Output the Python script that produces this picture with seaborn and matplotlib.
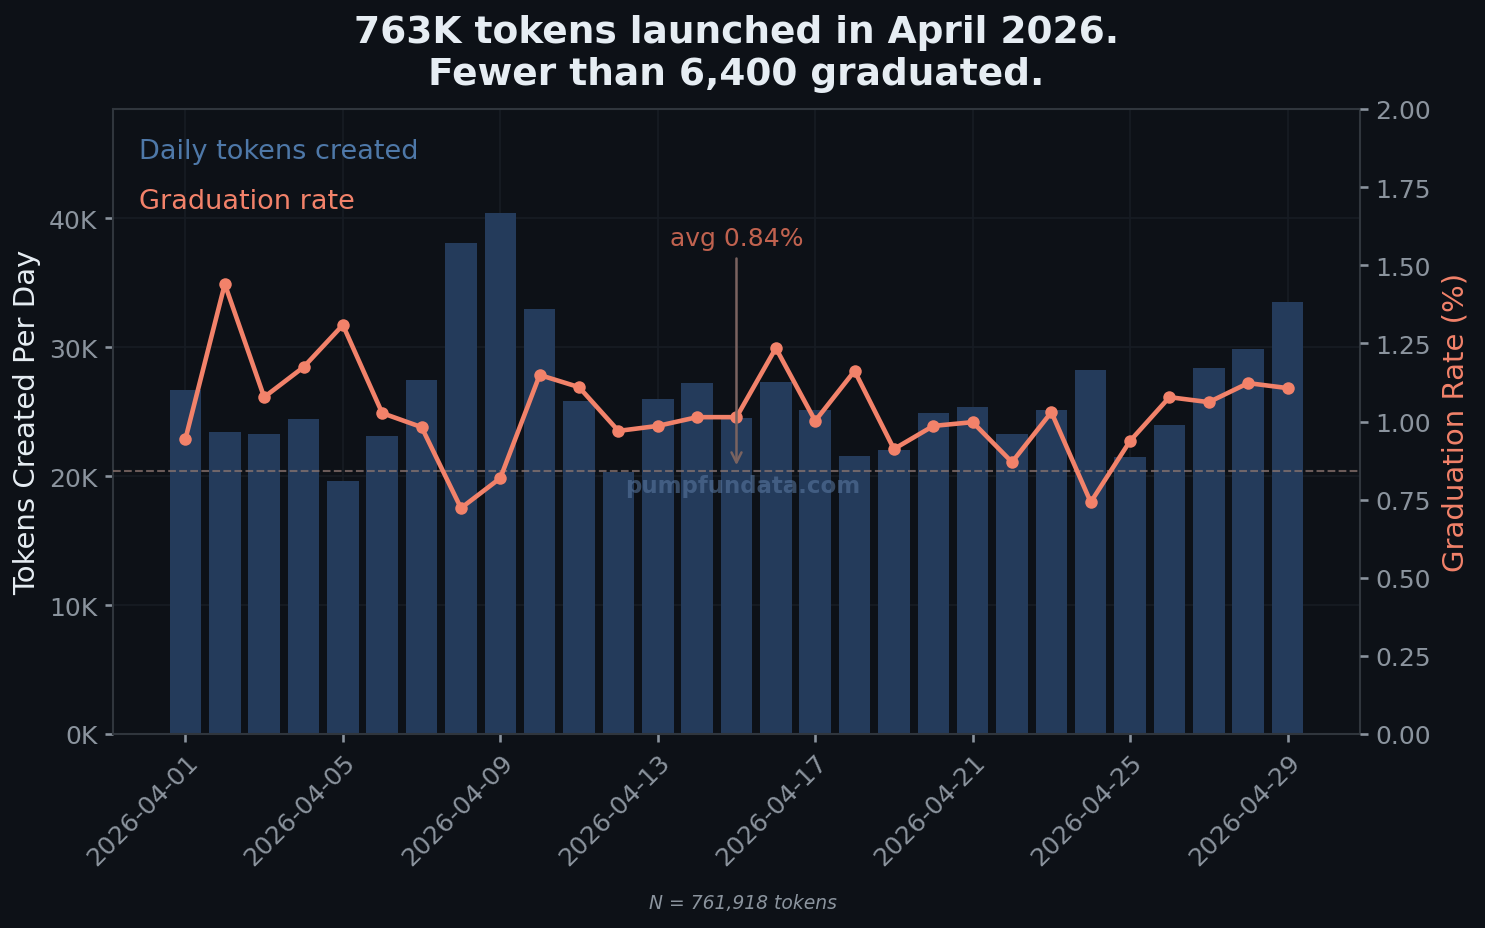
import numpy as np
import pandas as pd
import matplotlib
matplotlib.use("Agg")
import matplotlib.pyplot as plt
import seaborn as sns
from matplotlib.ticker import FuncFormatter, MultipleLocator

# ----------------------------------------------------
# data
# ----------------------------------------------------
dates = pd.date_range("2026-04-01", "2026-04-29", freq="D").strftime("%Y-%m-%d").tolist()

tokens_created = [
    26700, 23400, 23300, 24400, 19650, 23100, 27500, 38100, 40400, 33000,
    25800, 20300, 26000, 27200, 24500, 27300, 25100, 21600, 22000, 24900,
    25400, 23300, 25100, 28200, 21500, 24000, 28400, 29900, 33500,
]

grad_rate = [
    0.944, 1.440, 1.078, 1.174, 1.309, 1.027, 0.982, 0.723, 0.819, 1.149,
    1.110, 0.970, 0.986, 1.014, 1.014, 1.235, 1.002, 1.162, 0.912, 0.986,
    0.998, 0.870, 1.030, 0.742, 0.938, 1.078, 1.062, 1.123, 1.107,
]

avg_rate = 0.842
avg_label = "avg 0.84%"
n_tokens = 761918
title = "763K tokens launched in April 2026.\nFewer than 6,400 graduated."

# ----------------------------------------------------
# style
# ----------------------------------------------------
BG = "#0d1117"
BAR = "#243b5b"
LINE = "#f2826a"
GRID = "#171c24"
SPINE = "#30363d"
TICK = "#8b949e"
TEXT = "#e6edf3"

sns.set_theme(style="dark")
plt.rcParams["font.family"] = ["DejaVu Sans"]

df = pd.DataFrame({"date": dates, "tokens": tokens_created, "rate": grad_rate})
df["pos"] = np.arange(len(df))

fig = plt.figure(figsize=(9.9, 6.193), dpi=150, facecolor=BG)
ax = fig.add_axes([0.0761, 0.2088, 0.8397, 0.6728])
ax.set_facecolor(BG)

sns.barplot(data=df, x="pos", y="tokens", color=BAR, saturation=1,
            width=0.8, linewidth=0, edgecolor="none", ax=ax, zorder=2)

ax.set_xlim(-0.4 - 1.44, len(df) - 1 + 0.4 + 1.44)
ax.set_ylim(0, max(tokens_created) * 1.2)
ax.yaxis.set_major_locator(MultipleLocator(10000))
ax.yaxis.set_major_formatter(FuncFormatter(lambda v, _: f"{v/1000:.0f}K"))

tick_pos = list(range(0, len(df), 4))
ax.set_xticks(tick_pos)
ax.set_xticklabels([dates[i] for i in tick_pos], rotation=45, ha="right",
                   rotation_mode="anchor")
ax.set_xlabel("")
ax.set_ylabel("Tokens Created Per Day", color=TEXT, fontsize=14, labelpad=4)

ax.grid(True, color=GRID, linewidth=0.8, zorder=0)
ax.set_axisbelow(True)
ax.tick_params(colors=TICK, labelsize=12, length=4, left=True, bottom=True)
for s in ax.spines.values():
    s.set_visible(True)
    s.set_color(SPINE)
    s.set_linewidth(1.0)

# ----------------------------------------------------
# graduation rate on the right
# ----------------------------------------------------
ax2 = ax.twinx()
sns.lineplot(data=df, x="pos", y="rate", color=LINE, linewidth=2.2,
             marker="o", markersize=6, markeredgewidth=0, ax=ax2, zorder=3)
ax2.axhline(avg_rate, color="#8b7570", linestyle="--", linewidth=1, alpha=0.75)
ax2.set_ylim(0, 2.0)
ax2.yaxis.set_major_locator(MultipleLocator(0.25))
ax2.yaxis.set_major_formatter(FuncFormatter(lambda v, _: f"{v:.2f}"))
ax2.set_ylabel("Graduation Rate (%)", color=LINE, fontsize=14, labelpad=5)
ax2.grid(False)
ax2.tick_params(colors=TICK, labelsize=12, length=4, right=True)
for s in ax2.spines.values():
    s.set_visible(False)

ax2.annotate(avg_label, xy=(14, avg_rate + 0.005), xytext=(14, 1.55),
             ha="center", va="bottom", color="#c0624f", fontsize=12,
             arrowprops=dict(arrowstyle="->", color="#7a6360", lw=1.2))

# legend-like labels
ax.text(0.021, 0.933, "Daily tokens created", transform=ax.transAxes,
        color="#4e78a8", fontsize=13, va="center")
ax.text(0.021, 0.853, "Graduation rate", transform=ax.transAxes,
        color=LINE, fontsize=13, va="center")

# watermark
ax.text(0.505, 0.397, "pumpfundata.com", transform=ax.transAxes,
        color="#5b7aa3", alpha=0.55, fontsize=11, fontweight="bold",
        ha="center", va="center", zorder=5)

ax.set_title(title, color=TEXT, fontsize=18, fontweight="bold", pad=12,
             linespacing=1.2)

fig.text(0.5, 1 - 904 / 929, f"N = {n_tokens:,} tokens", color=TICK,
         fontsize=9, style="italic", ha="center", va="center")

fig.savefig("out.png", dpi=150, facecolor=BG)
